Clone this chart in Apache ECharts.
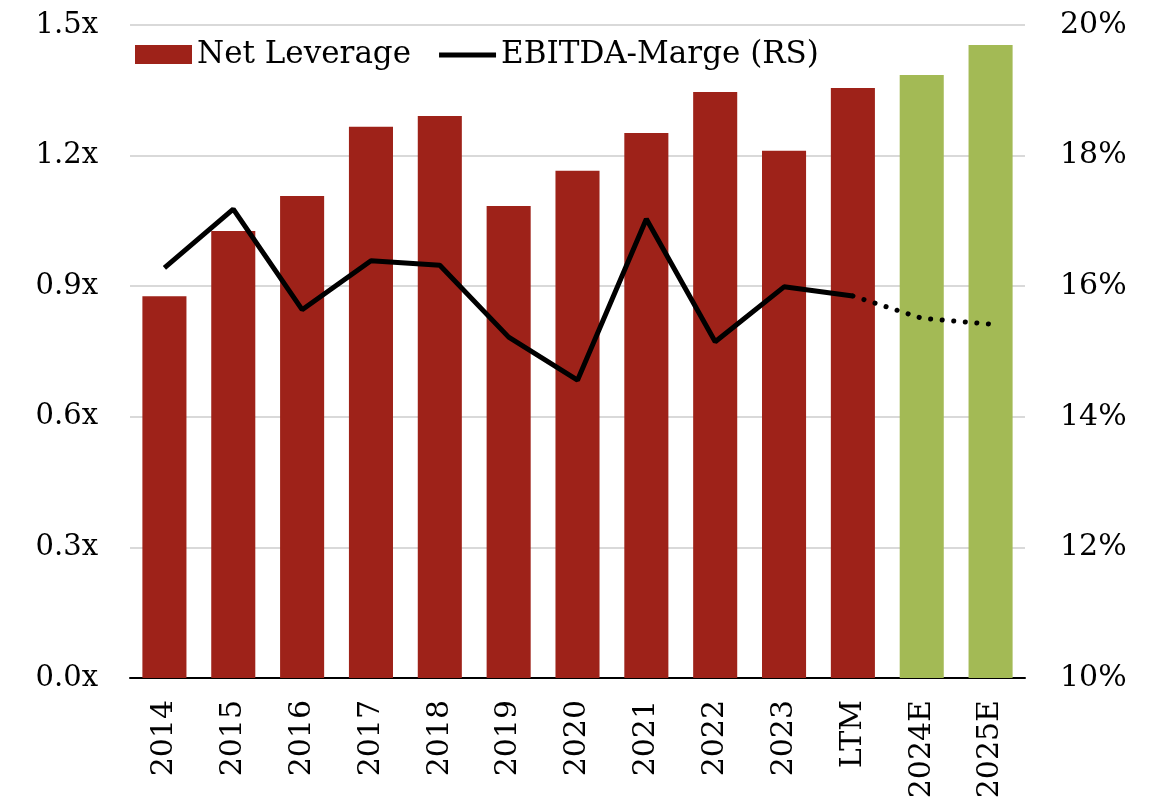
<!DOCTYPE html>
<html>
<head>
<meta charset="utf-8">
<script src="https://cdn.jsdelivr.net/npm/echarts@6/dist/echarts.min.js"></script>
<style>
  html, body { margin: 0; padding: 0; background: #fff; }
  #chart { width: 1167px; height: 810px; }
</style>
</head>
<body>
<div id="chart"></div>
<script>
// categories and values
var categories = ["2014", "2015", "2016", "2017", "2018", "2019", "2020", "2021", "2022", "2023", "LTM", "2024E", "2025E"];
var netLeverage = [0.877, 1.027, 1.107, 1.266, 1.291, 1.084, 1.165, 1.252, 1.346, 1.211, 1.355, 1.385, 1.454];
var ebitdaMargin = [16.28, 17.18, 15.64, 16.39, 16.32, 15.22, 14.56, 17.03, 15.15, 15.99, 15.85, 15.51, 15.42];
var forecastFrom = 10; // index of LTM: dotted line starts here
var estimateCats = ["2024E", "2025E"];

var RED = "#9E2219";
var GREEN = "#A3BA55";
var FONT = "DejaVu Serif";

var solidLine = ebitdaMargin.map(function (v, i) { return i <= forecastFrom ? v : null; });
var dottedLine = ebitdaMargin.map(function (v, i) { return i >= forecastFrom ? v : null; });

var barData = netLeverage.map(function (v, i) {
    var isEst = estimateCats.indexOf(categories[i]) >= 0;
    return { value: v, itemStyle: { color: isEst ? GREEN : RED } };
});

// plain thick line for the legend; tiny corner specks keep the box full height
var lineIcon = "path://M0,0L0.01,0L0.01,0.01Z M0,7.5L57,7.5L57,12.5L0,12.5Z M0,19L0.01,19L0.01,19.01Z";

var chart = echarts.init(document.getElementById("chart"));
chart.setOption({
    animation: false,
    textStyle: { fontFamily: FONT, color: "#000" },
    grid: { left: 130, right: 142, top: 25, bottom: 132 },
    legend: {
        left: 130, top: 34,
        itemWidth: 57, itemHeight: 19, itemGap: 28,
        textStyle: { fontFamily: FONT, fontSize: 31, color: "#000" },
        data: [
            { name: "Net Leverage", icon: "rect", itemStyle: { color: RED } },
            { name: "EBITDA-Marge (RS)", icon: lineIcon, itemStyle: { color: "#000" } }
        ]
    },
    xAxis: {
        type: "category",
        data: categories,
        axisLine: { lineStyle: { color: "#000", width: 2 } },
        axisTick: { show: false },
        axisLabel: { rotate: 90, fontSize: 30, color: "#000", margin: 22, fontFamily: FONT }
    },
    yAxis: [
        {
            type: "value", min: 0, max: 1.5, interval: 0.3,
            axisLine: { show: false }, axisTick: { show: false },
            splitLine: { lineStyle: { color: "#d9d9d9", width: 2 } },
            axisLabel: {
                fontSize: 29, color: "#000", margin: 32, fontFamily: FONT,
                formatter: function (v) { return v.toFixed(1) + "x"; }
            }
        },
        {
            type: "value", min: 10, max: 20, interval: 2,
            axisLine: { show: false }, axisTick: { show: false },
            splitLine: { show: false },
            axisLabel: {
                fontSize: 30, color: "#000", margin: 35, fontFamily: FONT,
                formatter: function (v) { return v + "%"; }
            }
        }
    ],
    series: [
        {
            name: "Net Leverage", type: "bar", data: barData,
            barCategoryGap: "36%", itemStyle: { color: RED }
        },
        {
            name: "EBITDA-Marge (RS)", type: "line", yAxisIndex: 1,
            data: solidLine, symbol: "none", connectNulls: false,
            lineStyle: { color: "#000", width: 5 }, itemStyle: { color: "#000" }
        },
        {
            name: "EBITDA-Marge forecast", type: "line", yAxisIndex: 1,
            data: dottedLine, symbol: "none",
            lineStyle: { color: "#000", width: 5, type: [0.1, 11.5], cap: "round" }
        }
    ]
});
</script>
</body>
</html>
